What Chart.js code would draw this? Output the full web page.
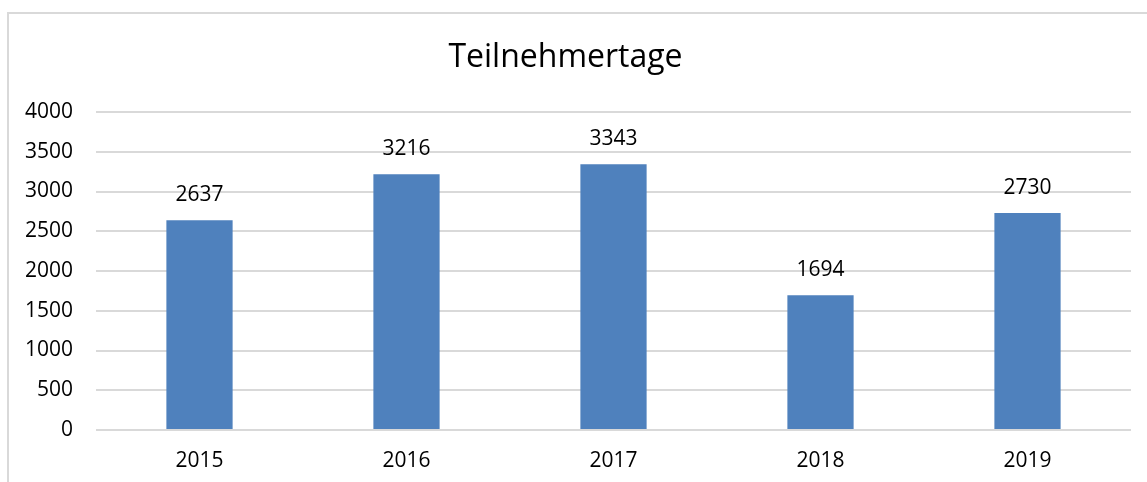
<!DOCTYPE html>
<html>
<head>
<meta charset="utf-8">
<script src="https://cdn.jsdelivr.net/npm/chart.js@4/dist/chart.umd.min.js"></script>
<style>
  html, body { margin: 0; padding: 0; background: #ffffff; }
  #wrap { width: 1147px; height: 482px; position: relative; }
</style>
</head>
<body>
<div id="wrap"><canvas id="c" width="1147" height="482"></canvas></div>
<script>
const chartTitle = "Teilnehmertage";
const categories = ["2015", "2016", "2017", "2018", "2019"];
const values = [2637, 3216, 3343, 1694, 2730];
const yTicks = [0, 500, 1000, 1500, 2000, 2500, 3000, 3500, 4000];

const FONT = "'Open Sans', 'Liberation Sans', sans-serif";

const frame = {
  id: 'frame',
  beforeDraw(chart) {
    const ctx = chart.ctx;
    ctx.save();
    ctx.fillStyle = '#ffffff';
    ctx.fillRect(0, 0, chart.width, chart.height);
    ctx.strokeStyle = '#d9d9d9';
    ctx.lineWidth = 2;
    ctx.beginPath();
    ctx.moveTo(8, chart.height);
    ctx.lineTo(8, 13);
    ctx.lineTo(chart.width, 13);
    ctx.stroke();
    ctx.restore();
  }
};

const labels = {
  id: 'barLabels',
  afterDatasetsDraw(chart) {
    const ctx = chart.ctx;
    const meta = chart.getDatasetMeta(0);
    ctx.save();
    ctx.font = "21px " + FONT;
    ctx.fillStyle = '#000000';
    ctx.textAlign = 'center';
    ctx.textBaseline = 'middle';
    meta.data.forEach((bar, i) => {
      ctx.fillText(String(values[i]), bar.x, bar.y - 25);
    });
    ctx.restore();
  }
};

new Chart(document.getElementById('c'), {
  type: 'bar',
  data: {
    labels: categories,
    datasets: [{
      data: values,
      backgroundColor: '#4f81bd',
      borderWidth: 0,
      barPercentage: 0.32,
      categoryPercentage: 1.0
    }]
  },
  options: {
    responsive: false,
    animation: false,
    devicePixelRatio: 1,
    layout: { padding: { left: 0, right: 16, top: 0, bottom: 0 } },
    plugins: {
      legend: { display: false },
      tooltip: { enabled: false },
      title: {
        display: true,
        text: chartTitle,
        color: '#000000',
        font: { family: FONT, size: 32, weight: 'normal', lineHeight: 1.2 },
        padding: { top: 39, bottom: 34.6 }
      }
    },
    scales: {
      x: {
        grid: { display: false, drawTicks: false },
        border: { display: false },
        ticks: {
          color: '#000000',
          font: { family: FONT, size: 21 },
          padding: 18
        },
        afterFit(scale) { scale.height = 52; }
      },
      y: {
        min: 0,
        max: 4000,
        afterBuildTicks(scale) { scale.ticks = yTicks.map(v => ({ value: v })); },
        grid: { color: '#d9d9d9', lineWidth: 2, drawTicks: false },
        border: { display: false },
        ticks: {
          color: '#000000',
          font: { family: FONT, size: 21 },
          padding: 23,
          callback: (v) => String(v)
        },
        afterFit(scale) { scale.width = 96; }
      }
    }
  },
  plugins: [frame, labels]
});
</script>
</body>
</html>
